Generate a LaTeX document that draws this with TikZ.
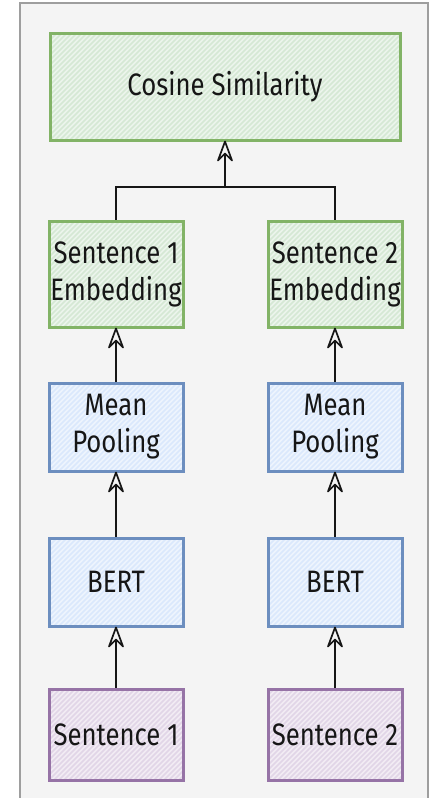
\documentclass[tikz,border=0pt]{standalone}
\usepackage{fontspec}
\setmainfont[FakeStretch=0.83]{Fira Sans}
\usetikzlibrary{calc}

\definecolor{panelbg}{HTML}{F4F4F4}
\definecolor{panelline}{HTML}{9E9E9E}
\definecolor{gline}{HTML}{82B366}
\definecolor{gfill}{HTML}{D5E8D4}
\definecolor{bline}{HTML}{6C8EBF}
\definecolor{bfill}{HTML}{DAE8FC}
\definecolor{pline}{HTML}{9673A6}
\definecolor{pfill}{HTML}{E1D5E7}
\definecolor{ink}{HTML}{161616}

\tikzset{
  hatch/.style={
    path picture={
      \foreach \i in {-130,-125,...,360}{
        \draw[#1, line width=1.6pt]
          ($(path picture bounding box.south west)+(\i pt,0)$) -- ++(130pt,130pt);
      }
    }
  },
  card/.style n args={2}{
    draw=#1, line width=3pt, fill=#2!45!white, hatch=#2,
    text=ink, align=center, font=\fontsize{31}{37}\selectfont,
    inner sep=0pt, rectangle
  },
  greenbox/.style={card={gline}{gfill}},
  bluebox/.style={card={bline}{bfill}},
  purplebox/.style={card={pline}{pfill}},
  colbox/.style={minimum width=134pt},
  link/.style={draw=ink, line width=1.6pt},
  arrowlink/.style={link, shorten >=12pt},
  headline/.style={draw=ink, fill=panelbg, line width=1.7pt, line join=round}
}

% hollow notched arrow head pointing up, tip at #1
\newcommand\upheadat[1]{%
  \draw[headline] (#1) -- ++(7,19) -- ++(-7,-7) -- ++(-7,7) -- cycle;}

\begin{document}
\begin{tikzpicture}[x=1pt, y=-1pt]
  \useasboundingbox (0,0) rectangle (433,798);

  % background panel
  \fill[white] (0,0) rectangle (433,798);
  \draw[panelline, fill=panelbg, line width=1.5pt] (20,803) -- (20,3) -- (428,3) -- (428,803);

  % top box
  \node[greenbox, minimum width=350pt, minimum height=107pt] (cos) at (225,86.5) {Cosine Similarity};

  % left column
  \node[greenbox, colbox, minimum height=106pt] (emb1) at (116,274) {Sentence 1\\Embedding};
  \node[bluebox, colbox, minimum height=88pt] (pool1) at (116,427) {Mean\\Pooling};
  \node[bluebox, colbox, minimum height=88pt] (bert1) at (116,582) {BERT};
  \node[purplebox, colbox, minimum height=91pt] (sent1) at (116,734.5) {Sentence 1};

  % right column
  \node[greenbox, colbox, minimum height=106pt] (emb2) at (335,274) {Sentence 2\\Embedding};
  \node[bluebox, colbox, minimum height=88pt] (pool2) at (335,427) {Mean\\Pooling};
  \node[bluebox, colbox, minimum height=88pt] (bert2) at (335,582) {BERT};
  \node[purplebox, colbox, minimum height=91pt] (sent2) at (335,734.5) {Sentence 2};

  % upward flow
  \draw[arrowlink] (sent1.north) -- (bert1.south);  \upheadat{bert1.south}
  \draw[arrowlink] (bert1.north) -- (pool1.south);  \upheadat{pool1.south}
  \draw[arrowlink] (pool1.north) -- (emb1.south);   \upheadat{emb1.south}
  \draw[arrowlink] (sent2.north) -- (bert2.south);  \upheadat{bert2.south}
  \draw[arrowlink] (bert2.north) -- (pool2.south);  \upheadat{pool2.south}
  \draw[arrowlink] (pool2.north) -- (emb2.south);   \upheadat{emb2.south}

  % merge into the similarity box
  \coordinate (join) at (225,187);
  \draw[link] (emb1.north) -- (emb1.north |- join) -- (emb2.north |- join) -- (emb2.north);
  \draw[arrowlink] (join) -- (cos.south);  \upheadat{cos.south}
\end{tikzpicture}
\end{document}
